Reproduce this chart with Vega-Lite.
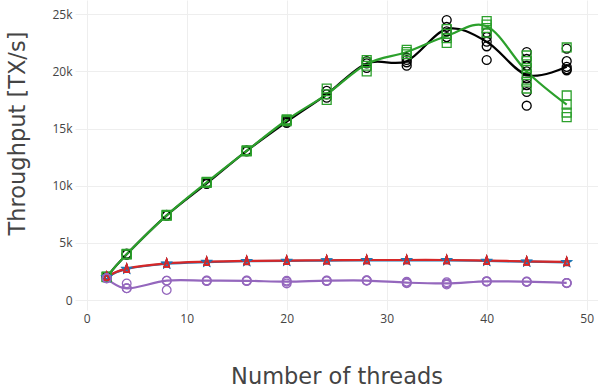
{
  "$schema": "https://vega.github.io/schema/vega-lite/v6.json",
  "width": 523,
  "height": 310,
  "autosize": {"type": "none"},
  "padding": {"left": 75, "top": 0, "right": 0, "bottom": 78},
  "background": "white",
  "config": {"view": {"stroke": null}},
  "data": {"values": [
    {"s":"A","x":2,"y":2020},{"s":"A","x":2,"y":2000},{"s":"A","x":2,"y":2050},
    {"s":"A","x":4,"y":4000},{"s":"A","x":4,"y":4050},{"s":"A","x":4,"y":3980},
    {"s":"A","x":8,"y":7400},{"s":"A","x":8,"y":7450},{"s":"A","x":8,"y":7380},
    {"s":"A","x":12,"y":10200},{"s":"A","x":12,"y":10250},{"s":"A","x":12,"y":10150},
    {"s":"A","x":16,"y":13050},{"s":"A","x":16,"y":13100},{"s":"A","x":16,"y":13000},
    {"s":"A","x":20,"y":15600},{"s":"A","x":20,"y":15700},{"s":"A","x":20,"y":15500},
    {"s":"A","x":24,"y":18300},{"s":"A","x":24,"y":18000},{"s":"A","x":24,"y":17700},
    {"s":"A","x":28,"y":20900},{"s":"A","x":28,"y":20700},{"s":"A","x":28,"y":20300},
    {"s":"A","x":32,"y":21200},{"s":"A","x":32,"y":21000},{"s":"A","x":32,"y":20800},{"s":"A","x":32,"y":20500},
    {"s":"A","x":36,"y":24500},{"s":"A","x":36,"y":23900},{"s":"A","x":36,"y":23500},{"s":"A","x":36,"y":23000},
    {"s":"A","x":40,"y":23400},{"s":"A","x":40,"y":23000},{"s":"A","x":40,"y":22600},{"s":"A","x":40,"y":22200},{"s":"A","x":40,"y":21000},
    {"s":"A","x":44,"y":21700},{"s":"A","x":44,"y":21100},{"s":"A","x":44,"y":20500},{"s":"A","x":44,"y":20000},{"s":"A","x":44,"y":19400},{"s":"A","x":44,"y":18800},{"s":"A","x":44,"y":18200},{"s":"A","x":44,"y":17000},
    {"s":"A","x":48,"y":22000},{"s":"A","x":48,"y":20900},{"s":"A","x":48,"y":20400},{"s":"A","x":48,"y":20200},{"s":"A","x":48,"y":20100},

    {"s":"B","x":2,"y":2050},{"s":"B","x":2,"y":2000},{"s":"B","x":2,"y":2020},
    {"s":"B","x":4,"y":4000},{"s":"B","x":4,"y":4050},{"s":"B","x":4,"y":3980},
    {"s":"B","x":8,"y":7400},{"s":"B","x":8,"y":7450},{"s":"B","x":8,"y":7380},
    {"s":"B","x":12,"y":10300},{"s":"B","x":12,"y":10350},{"s":"B","x":12,"y":10250},
    {"s":"B","x":16,"y":13050},{"s":"B","x":16,"y":13100},{"s":"B","x":16,"y":13000},
    {"s":"B","x":20,"y":15750},{"s":"B","x":20,"y":15800},{"s":"B","x":20,"y":15650},
    {"s":"B","x":24,"y":18500},{"s":"B","x":24,"y":18000},{"s":"B","x":24,"y":17500},
    {"s":"B","x":28,"y":21000},{"s":"B","x":28,"y":20800},{"s":"B","x":28,"y":20500},{"s":"B","x":28,"y":20000},
    {"s":"B","x":32,"y":21900},{"s":"B","x":32,"y":21700},{"s":"B","x":32,"y":21500},
    {"s":"B","x":36,"y":23700},{"s":"B","x":36,"y":23300},{"s":"B","x":36,"y":22900},{"s":"B","x":36,"y":22500},
    {"s":"B","x":40,"y":24400},{"s":"B","x":40,"y":24100},{"s":"B","x":40,"y":23800},{"s":"B","x":40,"y":23400},
    {"s":"B","x":44,"y":21400},{"s":"B","x":44,"y":20900},{"s":"B","x":44,"y":20300},{"s":"B","x":44,"y":19700},{"s":"B","x":44,"y":19100},{"s":"B","x":44,"y":18500},
    {"s":"B","x":48,"y":22100},{"s":"B","x":48,"y":17900},{"s":"B","x":48,"y":17100},{"s":"B","x":48,"y":16400},{"s":"B","x":48,"y":16000},

    {"s":"C","x":2,"y":1980},{"s":"C","x":2,"y":2000},{"s":"C","x":2,"y":2020},
    {"s":"C","x":4,"y":2700},{"s":"C","x":4,"y":2720},{"s":"C","x":4,"y":2740},
    {"s":"C","x":8,"y":3150},{"s":"C","x":8,"y":3170},{"s":"C","x":8,"y":3190},
    {"s":"C","x":12,"y":3300},{"s":"C","x":12,"y":3320},{"s":"C","x":12,"y":3340},
    {"s":"C","x":16,"y":3370},{"s":"C","x":16,"y":3390},{"s":"C","x":16,"y":3410},
    {"s":"C","x":20,"y":3400},{"s":"C","x":20,"y":3420},{"s":"C","x":20,"y":3440},
    {"s":"C","x":24,"y":3430},{"s":"C","x":24,"y":3450},{"s":"C","x":24,"y":3470},
    {"s":"C","x":28,"y":3450},{"s":"C","x":28,"y":3470},{"s":"C","x":28,"y":3490},
    {"s":"C","x":32,"y":3450},{"s":"C","x":32,"y":3470},{"s":"C","x":32,"y":3490},
    {"s":"C","x":36,"y":3450},{"s":"C","x":36,"y":3470},{"s":"C","x":36,"y":3490},
    {"s":"C","x":40,"y":3400},{"s":"C","x":40,"y":3420},{"s":"C","x":40,"y":3440},
    {"s":"C","x":44,"y":3330},{"s":"C","x":44,"y":3350},{"s":"C","x":44,"y":3370},
    {"s":"C","x":48,"y":3280},{"s":"C","x":48,"y":3300},{"s":"C","x":48,"y":3320},

    {"s":"D","x":2,"y":2020},{"s":"D","x":2,"y":2040},{"s":"D","x":2,"y":2060},
    {"s":"D","x":4,"y":2730},{"s":"D","x":4,"y":2750},{"s":"D","x":4,"y":2770},
    {"s":"D","x":8,"y":3180},{"s":"D","x":8,"y":3200},{"s":"D","x":8,"y":3220},
    {"s":"D","x":12,"y":3330},{"s":"D","x":12,"y":3350},{"s":"D","x":12,"y":3370},
    {"s":"D","x":16,"y":3400},{"s":"D","x":16,"y":3420},{"s":"D","x":16,"y":3440},
    {"s":"D","x":20,"y":3430},{"s":"D","x":20,"y":3450},{"s":"D","x":20,"y":3470},
    {"s":"D","x":24,"y":3460},{"s":"D","x":24,"y":3480},{"s":"D","x":24,"y":3500},
    {"s":"D","x":28,"y":3480},{"s":"D","x":28,"y":3500},{"s":"D","x":28,"y":3520},
    {"s":"D","x":32,"y":3480},{"s":"D","x":32,"y":3500},{"s":"D","x":32,"y":3520},
    {"s":"D","x":36,"y":3480},{"s":"D","x":36,"y":3500},{"s":"D","x":36,"y":3520},
    {"s":"D","x":40,"y":3430},{"s":"D","x":40,"y":3450},{"s":"D","x":40,"y":3470},
    {"s":"D","x":44,"y":3360},{"s":"D","x":44,"y":3380},{"s":"D","x":44,"y":3400},
    {"s":"D","x":48,"y":3310},{"s":"D","x":48,"y":3330},{"s":"D","x":48,"y":3350},

    {"s":"E","x":2,"y":1900},{"s":"E","x":2,"y":1920},{"s":"E","x":2,"y":1880},
    {"s":"E","x":4,"y":1450},{"s":"E","x":4,"y":1020},{"s":"E","x":4,"y":1020},
    {"s":"E","x":8,"y":1690},{"s":"E","x":8,"y":1690},{"s":"E","x":8,"y":875},
    {"s":"E","x":12,"y":1700},{"s":"E","x":12,"y":1690},{"s":"E","x":12,"y":1650},
    {"s":"E","x":16,"y":1700},{"s":"E","x":16,"y":1680},{"s":"E","x":16,"y":1650},
    {"s":"E","x":20,"y":1690},{"s":"E","x":20,"y":1600},{"s":"E","x":20,"y":1450},
    {"s":"E","x":24,"y":1700},{"s":"E","x":24,"y":1690},{"s":"E","x":24,"y":1650},
    {"s":"E","x":28,"y":1720},{"s":"E","x":28,"y":1700},{"s":"E","x":28,"y":1680},
    {"s":"E","x":32,"y":1600},{"s":"E","x":32,"y":1520},{"s":"E","x":32,"y":1460},
    {"s":"E","x":36,"y":1550},{"s":"E","x":36,"y":1450},{"s":"E","x":36,"y":1350},
    {"s":"E","x":40,"y":1650},{"s":"E","x":40,"y":1630},{"s":"E","x":40,"y":1600},
    {"s":"E","x":44,"y":1620},{"s":"E","x":44,"y":1600},{"s":"E","x":44,"y":1580},
    {"s":"E","x":48,"y":1500},{"s":"E","x":48,"y":1490},{"s":"E","x":48,"y":1470}
  ]},
  "encoding": {
    "x": {
      "field": "x", "type": "quantitative",
      "scale": {"domain": [-1.17, 51.13], "nice": false, "zero": false},
      "axis": {
        "values": [0, 10, 20, 30, 40, 50],
        "title": "Number of threads",
        "grid": true, "gridColor": "#eeeeee", "gridWidth": 1,
        "domain": false, "ticks": false,
        "labelFont": "Open Sans", "labelFontSize": 12, "labelColor": "#444444", "labelPadding": 3,
        "titleFont": "DejaVu Sans", "titleFontSize": 22.5, "titleFontWeight": "normal", "titleColor": "#444444",
        "titleBaseline": "alphabetic", "titleY": 73
      }
    },
    "y": {
      "field": "y", "type": "quantitative",
      "scale": {"domain": [-875, 26250], "nice": false, "zero": false},
      "axis": {
        "values": [0, 5000, 10000, 15000, 20000, 25000],
        "labelExpr": "datum.value == 0 ? '0' : format(datum.value / 1000, 'd') + 'k'",
        "title": "Throughput [TX/s]",
        "grid": true, "gridColor": "#eeeeee", "gridWidth": 1,
        "domain": false, "ticks": false,
        "labelFont": "Open Sans", "labelFontSize": 12, "labelColor": "#444444", "labelPadding": 3,
        "titleFont": "DejaVu Sans", "titleFontSize": 22.5, "titleFontWeight": "normal", "titleColor": "#444444",
        "titleBaseline": "middle", "titleAlign": "center", "titleX": -58, "titleY": 133
      }
    },
    "color": {
      "field": "s", "type": "nominal", "legend": null,
      "scale": {"domain": ["A", "B", "C", "D", "E"], "range": ["#000000", "#2ca02c", "#1f77b4", "#d62728", "#9467bd"]}
    }
  },
  "layer": [
    {
      "mark": {"type": "line", "interpolate": "cardinal", "strokeWidth": 2.2},
      "encoding": {
        "y": {"aggregate": "median", "field": "y", "type": "quantitative"}
      }
    },
    {
      "mark": {"type": "point", "filled": false, "strokeWidth": 1.3, "opacity": 1},
      "encoding": {
        "shape": {
          "field": "s", "type": "nominal", "legend": null,
          "scale": {"domain": ["A", "B", "C", "D", "E"], "range": ["circle", "square", "M0,-1L0.2245,-0.309L0.951,-0.309L0.363,0.118L0.588,0.809L0,0.382L-0.588,0.809L-0.363,0.118L-0.951,-0.309L-0.2245,-0.309Z", "M0,-1L0.6,0.8L-0.6,0.8Z", "circle"]}
        },
        "size": {
          "field": "s", "type": "nominal", "legend": null,
          "scale": {"domain": ["A", "B", "C", "D", "E"], "range": [80, 75, 110, 90, 80]}
        }
      }
    }
  ]
}
